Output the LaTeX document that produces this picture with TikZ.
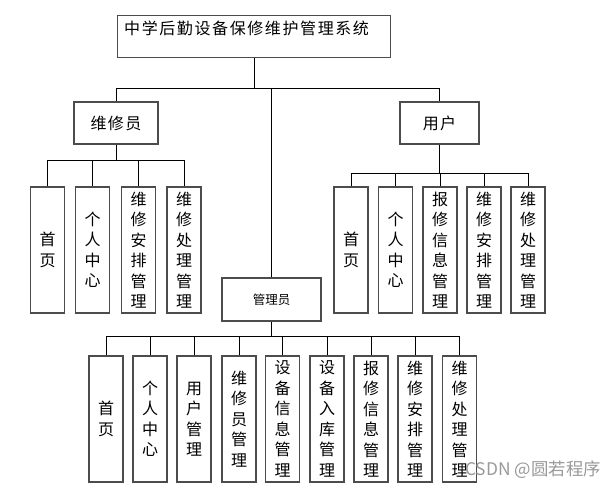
\documentclass[tikz,border=0pt]{standalone}
\usepackage{fontspec}
\newfontfamily\cjk{Noto Sans CJK SC}
\newfontfamily\cjkh[LetterSpace=8]{Noto Sans CJK SC}
\newfontfamily\cjkt[LetterSpace=10]{Noto Sans CJK SC}
\definecolor{boxline}{rgb}{0.30,0.30,0.30}
\definecolor{wmark}{rgb}{0.60,0.60,0.60}
\tikzset{
  box/.style={draw=boxline, line width=1.3pt, fill=white, inner sep=0pt},
  hbox/.style={box, minimum height=42pt, font=\cjkh\fontsize{16}{19}\selectfont},
  vbox/.style={box, minimum width=34pt, minimum height=126pt, align=center,
    font=\cjk\fontsize{16}{20.5}\selectfont},
  conn/.style={draw=black, line width=1pt}
}
\begin{document}
\begin{tikzpicture}[x=1pt,y=-1pt]
\useasboundingbox (0,0) rectangle (616,491);
% title
\node[box, minimum width=273pt, minimum height=42pt, anchor=north west,
  label={[anchor=north west, inner sep=0pt, xshift=7pt, yshift=-6pt,
  font=\cjkt\fontsize{16}{19}\selectfont]north west:中学后勤设备保修维护管理系统}] (title) at (117,15) {};
% second level
\node[hbox, minimum width=84pt] (wxy) at (116,123) {维修员};
\node[hbox, minimum width=79pt] (yh) at (439.5,123) {用户};
\node[box, minimum width=99pt, minimum height=43pt, font=\cjk\fontsize{12.5}{15}\selectfont] (gly) at (271.5,299.5) {管理员};
\coordinate (bus1) at (0,88);
\draw[conn] (title.south) -- (title.south |- bus1);
\draw[conn] (wxy.north) |- (yh.north |- bus1) -- (yh.north);
\draw[conn] (gly.north) -- (gly.north |- bus1);
% 维修员 children
\node[vbox] (a1) at (47.5,250) {首\\页};
\node[vbox] (a2) at (92.5,250) {个\\人\\中\\心};
\node[vbox] (a3) at (138.5,250) {维\\修\\安\\排\\管\\理};
\node[vbox] (a4) at (184,250) {维\\修\\处\\理\\管\\理};
\coordinate (bus2) at (0,160);
\draw[conn] (wxy.south) -- (wxy.south |- bus2);
\draw[conn] (a1.north) |- (a4.north |- bus2) -- (a4.north);
\draw[conn] (a2.north) -- (a2.north |- bus2);
\draw[conn] (a3.north) -- (a3.north |- bus2);
% 用户 children
\node[vbox] (b1) at (351,250) {首\\页};
\node[vbox] (b2) at (395.5,250) {个\\人\\中\\心};
\node[vbox] (b3) at (440,250) {报\\修\\信\\息\\管\\理};
\node[vbox] (b4) at (484,250) {维\\修\\安\\排\\管\\理};
\node[vbox] (b5) at (528,250) {维\\修\\处\\理\\管\\理};
\coordinate (bus3) at (0,173);
\draw[conn] (yh.south) -- (yh.south |- bus3);
\draw[conn] (b1.north) |- (b5.north |- bus3) -- (b5.north);
\draw[conn] (b2.north) -- (b2.north |- bus3);
\draw[conn] (b3.north) -- (b3.north |- bus3);
\draw[conn] (b4.north) -- (b4.north |- bus3);
% 管理员 children
\node[vbox] (c1) at (106,419) {首\\页};
\node[vbox] (c2) at (150,419) {个\\人\\中\\心};
\node[vbox] (c3) at (194,419) {用\\户\\管\\理};
\node[vbox] (c4) at (239,419) {维\\修\\员\\管\\理};
\node[vbox] (c5) at (282.5,419) {设\\备\\信\\息\\管\\理};
\node[vbox] (c6) at (327,419) {设\\备\\入\\库\\管\\理};
\node[vbox] (c7) at (371,419) {报\\修\\信\\息\\管\\理};
\node[vbox] (c8) at (415,419) {维\\修\\安\\排\\管\\理};
\node[vbox] (c9) at (459.5,419) {维\\修\\处\\理\\管\\理};
\coordinate (bus4) at (0,336);
\draw[conn] (gly.south) -- (gly.south |- bus4);
\draw[conn] (c1.north) |- (c9.north |- bus4) -- (c9.north);
\foreach \n in {c2,c3,c4,c5,c6,c7,c8}
  \draw[conn] (\n.north) -- (\n.north |- bus4);
% watermark
\node[anchor=east, inner sep=0pt, text=wmark, font=\cjk\fontsize{17.4}{20}\selectfont] (wm) at (601,470) {CSDN @圆若程序};
\end{tikzpicture}
\end{document}
